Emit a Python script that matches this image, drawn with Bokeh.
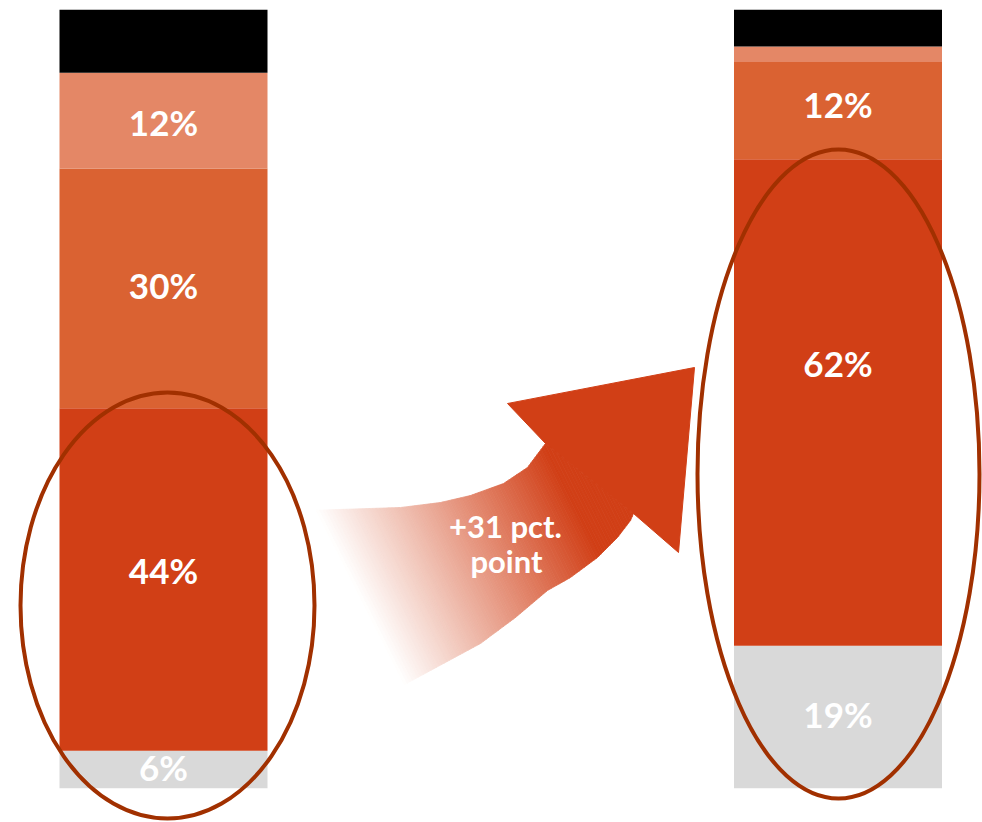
import numpy as np
from bokeh.plotting import figure
from bokeh.models import Range1d, ColumnDataSource
from bokeh.core.properties import value
from bokeh.embed import file_html
from bokeh.resources import INLINE

# ---------------- data ----------------
bars = ["Before", "After"]
segments = ["grey", "red", "orange", "light", "black"]
before_vals = [4.8, 44.0, 30.8, 12.3, 8.1]
after_vals = [18.3, 62.5, 12.5, 2.0, 4.7]
before_labels = ["6%", "44%", "30%", "12%", ""]
after_labels = ["19%", "62%", "12%", "", ""]
change_label = ["+31 pct.", "point"]

# ---------------- styling / layout ----------------
seg_colors = ["#D9D9D9", "#D13F16", "#DA6232", "#E48766", "#000000"]
ring_color = "#A13000"
arrow_color = (209, 63, 22)
W, H = 982, 822
PX_PER_UNIT = 7.784
BASE_PX = 787.7
bar_centers = [163, 837.5]
bar_width = 208
label_shift_px = 3
label_nudge_px = {("Before", 1): 7, ("After", 1): 37, ("Before", 3): -4, ("After", 2): 4}


def v(py):
    """screen y (px from top) -> data units"""
    return (BASE_PX - py) / PX_PER_UNIT


p = figure(width=W, height=H, output_backend="svg", toolbar_location=None,
           x_range=Range1d(0, W), y_range=Range1d(v(H), v(0)),
           min_border=0, background_fill_color="white", border_fill_color="white")
p.axis.visible = False
p.grid.visible = False
p.outline_line_color = None

# ---------------- stacked bars ----------------
lab_x, lab_y, lab_t = [], [], []
for bi, (name, vals, labels) in enumerate(zip(bars, [before_vals, after_vals],
                                                [before_labels, after_labels])):
    tops = np.cumsum(vals)
    bottoms = tops - np.array(vals)
    src = ColumnDataSource(dict(x=[bar_centers[bi]] * len(vals), bottom=bottoms, top=tops,
                                color=seg_colors))
    p.vbar(x="x", width=bar_width, bottom="bottom", top="top", fill_color="color",
           line_color=None, source=src)
    for si, lab in enumerate(labels):
        if lab:
            mid = (bottoms[si] + tops[si]) / 2
            nudge = (label_nudge_px.get((name, si), 0) + label_shift_px) / PX_PER_UNIT
            lab_x.append(bar_centers[bi])
            lab_y.append(mid + nudge)
            lab_t.append(lab)

p.text(x=lab_x, y=lab_y, text=lab_t, text_color="white", text_font=value("Lato"),
       text_font_style="bold", text_font_size="35px", text_align="center",
       text_baseline="middle")

# ---------------- curved gradient arrow (decoration, in screen px) ----------------
upper = [(307, 510), (400, 507), (440, 502), (470, 495), (503, 483), (527, 467),
         (542, 447), (545, 443)]
lower = [(633, 513), (630, 520), (617, 537), (597, 557), (570, 577), (547, 590),
         (515, 617), (480, 643), (393, 690)]
head = [(545, 443), (507, 403), (694, 367), (678, 552), (633, 513)]
tail = upper + lower


def clip_half(poly, d, s0, keep_greater):
    def s(q):
        return q[0] * d[0] + q[1] * d[1]
    out = []
    n = len(poly)
    for i in range(n):
        a, b = poly[i], poly[(i + 1) % n]
        sa, sb = s(a), s(b)
        ina = sa >= s0 if keep_greater else sa <= s0
        inb = sb >= s0 if keep_greater else sb <= s0
        if ina:
            out.append(a)
        if ina != inb:
            t = (s0 - sa) / (sb - sa)
            out.append((a[0] + t * (b[0] - a[0]), a[1] + t * (b[1] - a[1])))
    return out


rc = "#%02x%02x%02x" % arrow_color
p.patch([q[0] for q in head], [v(q[1]) for q in head], fill_color=rc,
        line_color=rc, line_width=1)

d = np.array([178.0, -90.0])
d = d / np.linalg.norm(d)
origin = d[0] * 307 + d[1] * 510
g0, g1 = 8, 240
xs, ys, cols = [], [], []
step = 3
for s0 in np.arange(-10, 330, step):
    part = clip_half(clip_half(tail, d, origin + s0, True), d, origin + s0 + step, False)
    if len(part) < 3:
        continue
    a = float(np.clip((s0 + step / 2 - g0) / (g1 - g0), 0, 1))
    c = tuple(int(round(255 * (1 - a) + arrow_color[k] * a)) for k in range(3))
    xs.append([q[0] for q in part])
    ys.append([v(q[1]) for q in part])
    cols.append("#%02x%02x%02x" % c)
p.patches(xs, ys, fill_color=cols, line_color=cols, line_width=0.8)

p.text(x=[505, 506], y=[v(525), v(560)], text=change_label, text_color="white",
       text_font=value("Lato"), text_font_style="bold", text_font_size="31px",
       text_align="center", text_baseline="middle")

# ---------------- highlight rings ----------------
p.ellipse(x=[167, 838], y=[v(605), v(473.5)], width=[294, 282], height=[426, 649],
          width_units="screen", height_units="screen",
          fill_color=None, line_color=ring_color, line_width=4)

open("out.html", "w").write(file_html(p, INLINE))
